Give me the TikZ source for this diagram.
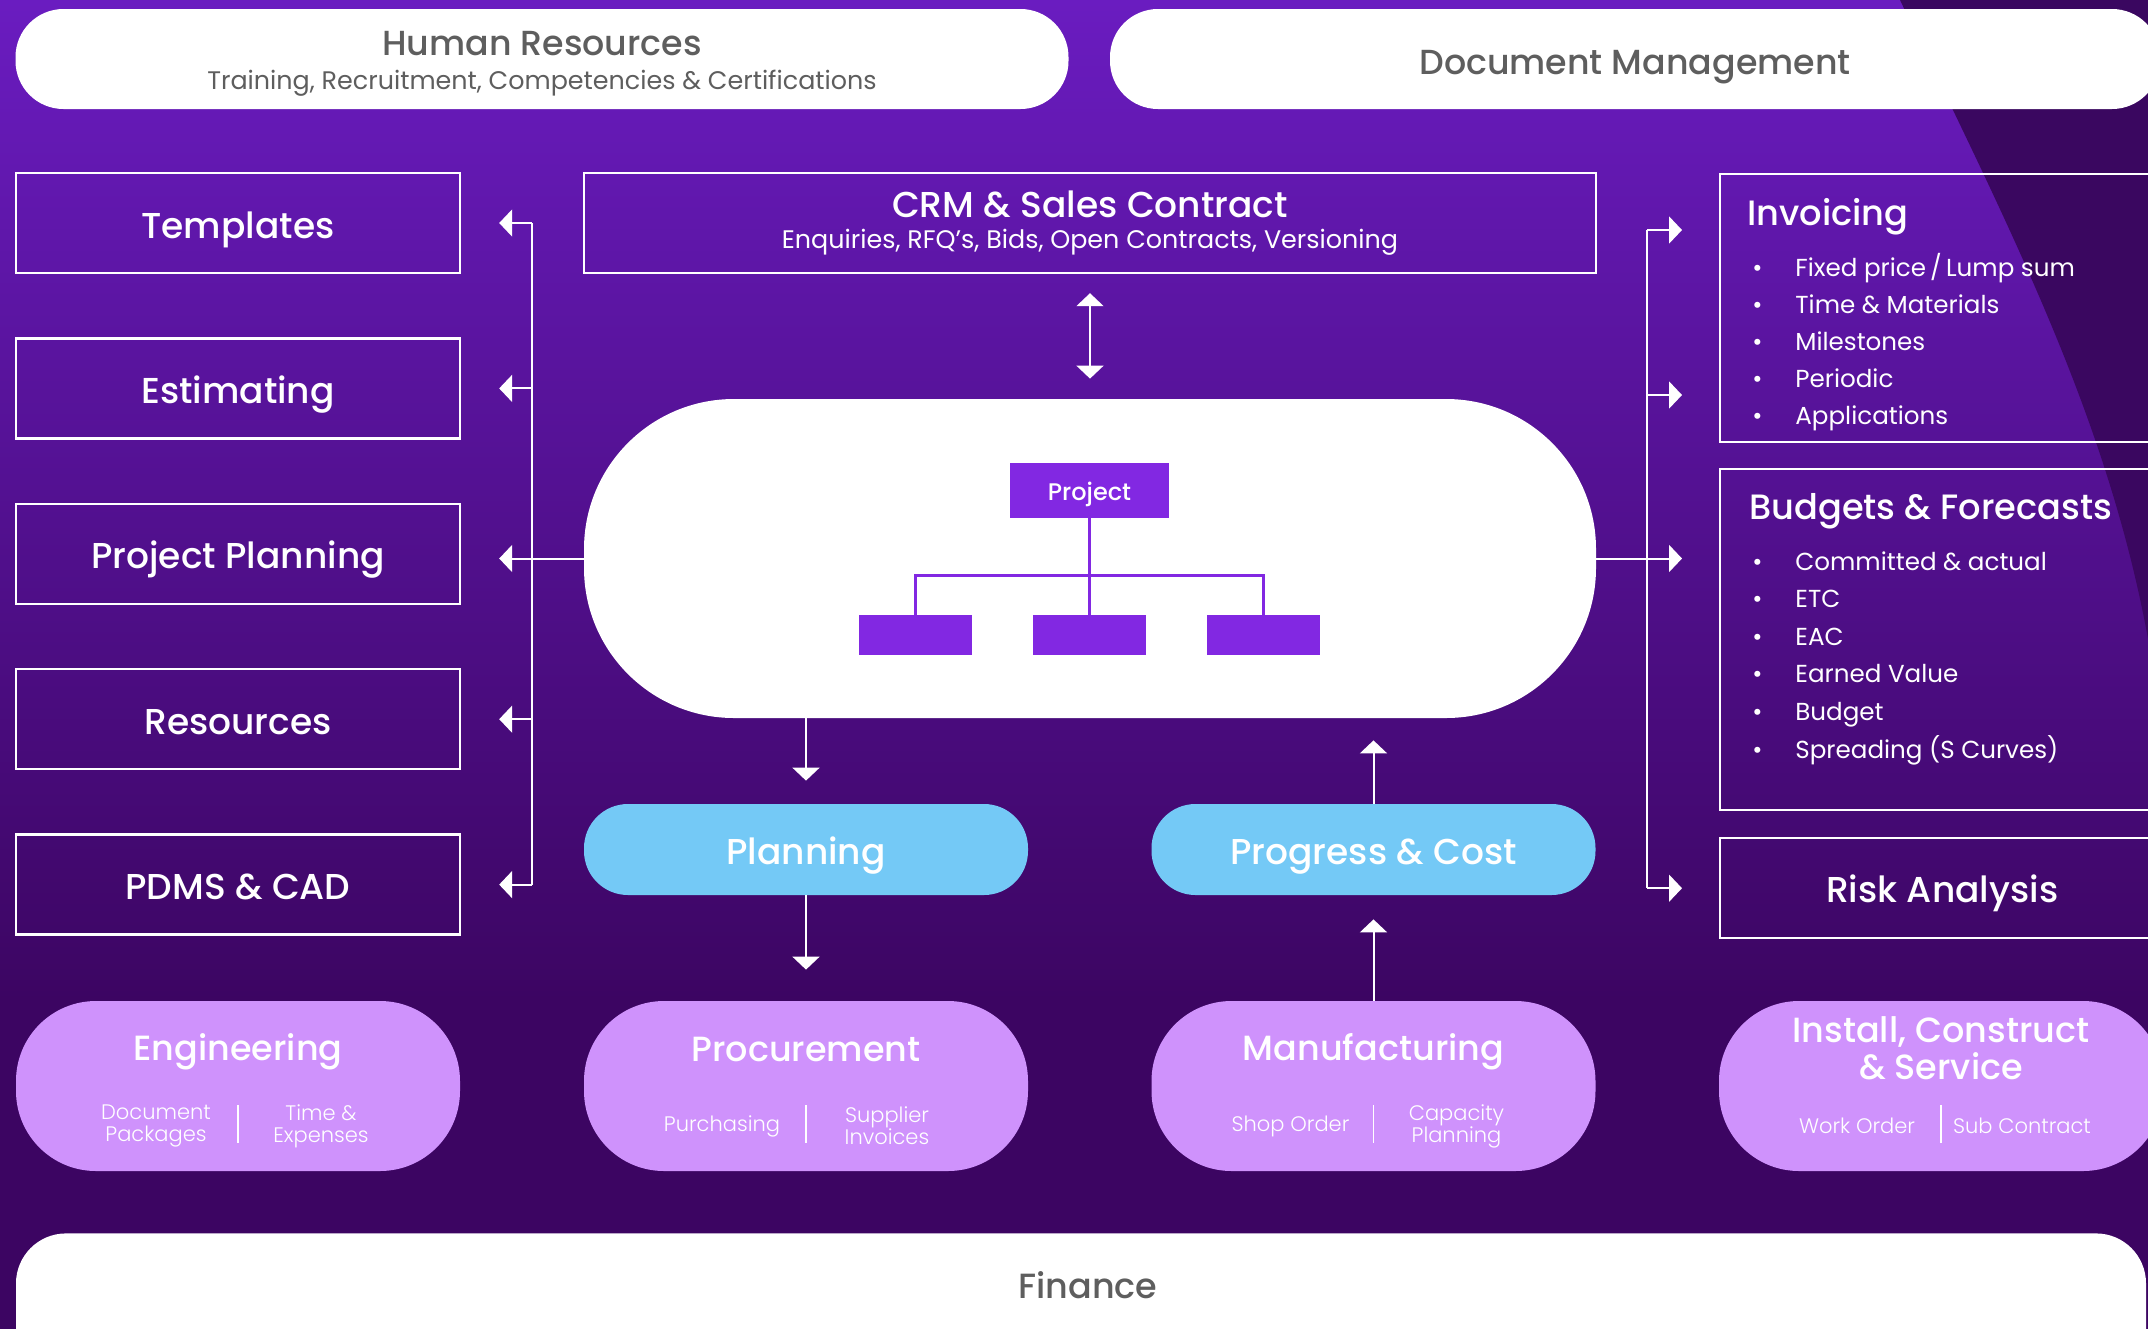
\documentclass[tikz,border=0pt]{standalone}
\usepackage{fontspec}
\setmainfont{Poppins}
\newfontfamily\popmed{Poppins Medium}
\newfontfamily\poplight{Poppins Light}
\usetikzlibrary{arrows.meta}
\usetikzlibrary{positioning}
\usetikzlibrary{calc}

\definecolor{bgtop}{HTML}{6A1CC0}
\definecolor{bgmid}{HTML}{4E0E8E}
\definecolor{bgbot}{HTML}{3C0562}
\definecolor{bgdark}{HTML}{3A0760}
\definecolor{skyblue}{HTML}{74C9F6}
\definecolor{lilac}{HTML}{CF92FC}
\definecolor{projpurple}{HTML}{8228E2}
\definecolor{greytext}{HTML}{5E5E5E}

\newcommand{\bul}{\makebox[21.5pt][l]{\textbullet}}

\begin{document}
\begin{tikzpicture}[
    x=0.5pt, y=-0.5pt,
    >={Triangle[length=6.5pt, width=13.5pt]},
    wpill/.style={fill=white, rounded corners=24pt, text=greytext, align=center},
    obox/.style={draw=white, line width=1.2pt, minimum width=222pt, minimum height=50pt, align=center, text=white, font=\popmed\fontsize{18}{22}\selectfont},
    centred/.style={text height=15pt, text depth=0pt},
    bpill/.style={fill=skyblue, rounded corners=22pt, minimum width=222pt, minimum height=45.5pt, text=white, font=\popmed\fontsize{18}{22}\selectfont, centred},
    vpill/.style={fill=lilac, rounded corners=40pt, minimum width=222pt, minimum height=85pt},
    vtitle/.style={text=white, font=\popmed\fontsize{17.5}{18.5}\selectfont, align=center},
    vsub/.style={text=white, font=\poplight\fontsize{10.5}{11}\selectfont, align=center},
    wbs/.style={fill=projpurple, minimum width=56.5pt, minimum height=20pt},
    link/.style={draw=white, line width=1pt},
    tree/.style={draw=projpurple, line width=1.5pt},
    boxtitle/.style={text=white, font=\popmed\fontsize{17.6}{22}\selectfont, anchor=west, inner sep=0pt},
    listtext/.style={text=white, font=\fontsize{12.3}{18.5}\selectfont, align=left, anchor=north west, inner sep=0pt}
]
    % background
    \useasboundingbox (0,0) rectangle (2148,1329);
    \shade[top color=bgtop, middle color=bgmid, bottom color=bgbot] (0,0) rectangle (2148,1001);
    \fill[bgbot] (0,1000) rectangle (2148,1329);
    \fill[bgdark] (1900,0) .. controls (2010,230) and (2110,420) .. (2150,650) -- (2150,0) -- cycle;

    % top bands
    \node[wpill, minimum width=526.5pt, minimum height=50pt, font=\popmed\fontsize{17.4}{20}\selectfont] (hr) at (542,59)
        {\rule{0pt}{17pt}Human Resources\\[-3pt]
         {\normalfont\fontsize{12.7}{14}\selectfont Training, Recruitment, Competencies \& Certifications}};
    \node[wpill, minimum width=525pt, minimum height=50pt, centred, font=\popmed\fontsize{17.4}{22}\selectfont] (docmgmt) at (1635,59) {Document Management};

    % left column
    \node[obox, centred] (templates) at (238,223) {Templates};
    \node[obox, centred, below=31.5pt of templates] (estimating) {Estimating};
    \node[obox, centred, below=31.5pt of estimating] (pplan) {Project Planning};
    \node[obox, centred, below=31.5pt of pplan] (resources) {Resources};
    \node[obox, centred, below=31.5pt of resources] (pdms) {PDMS \& CAD};

    % centre
    \node[obox, minimum width=506pt] (crm) at (1090,223)
        {CRM \& Sales Contract\\[-6.5pt]{\normalfont\fontsize{12.7}{14}\selectfont Enquiries, RFQ’s, Bids, Open Contracts, Versioning}};
    \node[fill=white, rounded corners=75pt, minimum width=506pt, minimum height=159.5pt] (core) at (1090,558.5) {};
    \node[wbs, minimum width=79.5pt, minimum height=27.5pt, text=white, text height=10pt, text depth=0pt, font=\popmed\fontsize{12}{14}\selectfont] (project) at (1089.5,490.5) {Project};
    \node[wbs] (wbsb) at (1089.5,635) {};
    \node[wbs, left=30pt of wbsb] (wbsa) {};
    \node[wbs, right=30pt of wbsb] (wbsc) {};
    \draw[tree] (project.south) -- (wbsb.north);
    \draw[tree] (wbsa.north) -- ++(0,-39) -| (wbsc.north);

    \node[bpill] (planning) at (806,849.5) {Planning};
    \node[bpill] (progress) at (1373.5,849.5) {Progress \& Cost};

    % right column
    \node[obox, minimum height=134pt, anchor=north west] (invoicing) at (1719,173) {};
    \node[boxtitle] at (1747,217) {Invoicing};
    \node[listtext] at (1752,253) {\bul Fixed price\,/\,Lump sum\\ \bul Time \& Materials\\ \bul Milestones\\ \bul Periodic\\ \bul Applications};
    \node[obox, minimum height=170.5pt, anchor=north west] (budgets) at (1719,468) {};
    \node[boxtitle] at (1749,511) {Budgets \& Forecasts};
    \node[listtext, font=\fontsize{12.3}{18.8}\selectfont] at (1752,551) {\bul Committed \& actual\\ \bul ETC\\ \bul EAC\\ \bul Earned Value\\ \bul Budget\\ \bul Spreading (S Curves)};
    \node[obox, centred, text height=14pt, anchor=north west] (risk) at (1719,837) {Risk Analysis};

    % bottom row
    \node[vpill] (engineering) at (238,1086) {};
    \node[vtitle] at ($(engineering)+(0,-34)$) {Engineering};
    \node[vsub] at ($(engineering)+(-82,40)$) {Document\\Packages};
    \node[vsub] at ($(engineering)+(83,40)$) {Time \&\\Expenses};
    \draw[white, line width=0.6pt] ($(engineering)+(0,19)$) -- ($(engineering)+(0,57)$);

    \node[vpill] (procurement) at (806,1086) {};
    \node[vtitle] at ($(procurement)+(0,-37)$) {Procurement};
    \node[vsub] at ($(procurement)+(-84,40)$) {Purchasing};
    \node[vsub] at ($(procurement)+(81,40)$) {Supplier\\Invoices};
    \draw[white, line width=0.6pt] ($(procurement)+(0,19)$) -- ($(procurement)+(0,57)$);

    \node[vpill] (manufacturing) at (1373.5,1086) {};
    \node[vtitle] at ($(manufacturing)+(0,-34)$) {Manufacturing};
    \node[vsub] at ($(manufacturing)+(-83,40)$) {Shop Order};
    \node[vsub] at ($(manufacturing)+(83,40)$) {Capacity\\Planning};
    \draw[white, line width=0.6pt] ($(manufacturing)+(0,19)$) -- ($(manufacturing)+(0,57)$);

    \node[vpill] (install) at (1941,1086) {};
    \node[vtitle] at ($(install)+(0,-38)$) {Install, Construct\\\& Service};
    \node[vsub] at ($(install)+(-84,40)$) {Work Order};
    \node[vsub] at ($(install)+(81,40)$) {Sub Contract};
    \draw[white, line width=0.6pt] ($(install)+(0,19)$) -- ($(install)+(0,57)$);

    \node[wpill, rounded corners=25pt, minimum width=1065pt, minimum height=83pt, anchor=north] (finance) at (1081,1233) {};
    \node[text=greytext, font=\popmed\fontsize{17.5}{20}\selectfont] at ($(finance.north)+(7,52)$) {Finance};

    % connectors
    \coordinate (lbus) at (532,0);
    \coordinate (rbus) at (1647,0);
    \draw[link, <->, shorten <=9.5pt, shorten >=10pt] (crm) -- (core);

    \draw[link] (lbus |- templates) -- (lbus |- pdms);
    \draw[link, ->, shorten >=19pt] (lbus |- templates) -- (templates.east);
    \draw[link, ->, shorten >=19pt] (lbus |- estimating) -- (estimating.east);
    \draw[link, ->, shorten >=19pt] (core.west) -- (core.west -| pplan.east);
    \draw[link, ->, shorten >=19pt] (lbus |- resources) -- (resources.east);
    \draw[link, ->, shorten >=19pt] (lbus |- pdms) -- (pdms.east);

    \coordinate (inv1) at ($(invoicing.north west)+(0,57)$);
    \coordinate (inv2) at ($(invoicing.north west)+(0,222)$);
    \draw[link] (rbus |- inv1) -- (rbus |- risk);
    \draw[link, ->, shorten >=18.5pt] (rbus |- inv1) -- (inv1);
    \draw[link, ->, shorten >=18.5pt] (rbus |- inv2) -- (inv2);
    \draw[link, ->, shorten >=18.5pt] (core.east) -- (core.east -| budgets.west);
    \draw[link, ->, shorten >=18.5pt] (rbus |- risk) -- (risk.west);

    \draw[link, ->, shorten >=11.5pt] (core.south -| planning) -- (planning.north);
    \draw[link, ->, shorten >=15.5pt] (planning) -- (procurement);
    \draw[link, ->, shorten >=12pt] (manufacturing) -- (progress);
    \draw[link, ->, shorten >=11pt] (progress.north) -- (progress.north |- core.south);
\end{tikzpicture}
\end{document}
